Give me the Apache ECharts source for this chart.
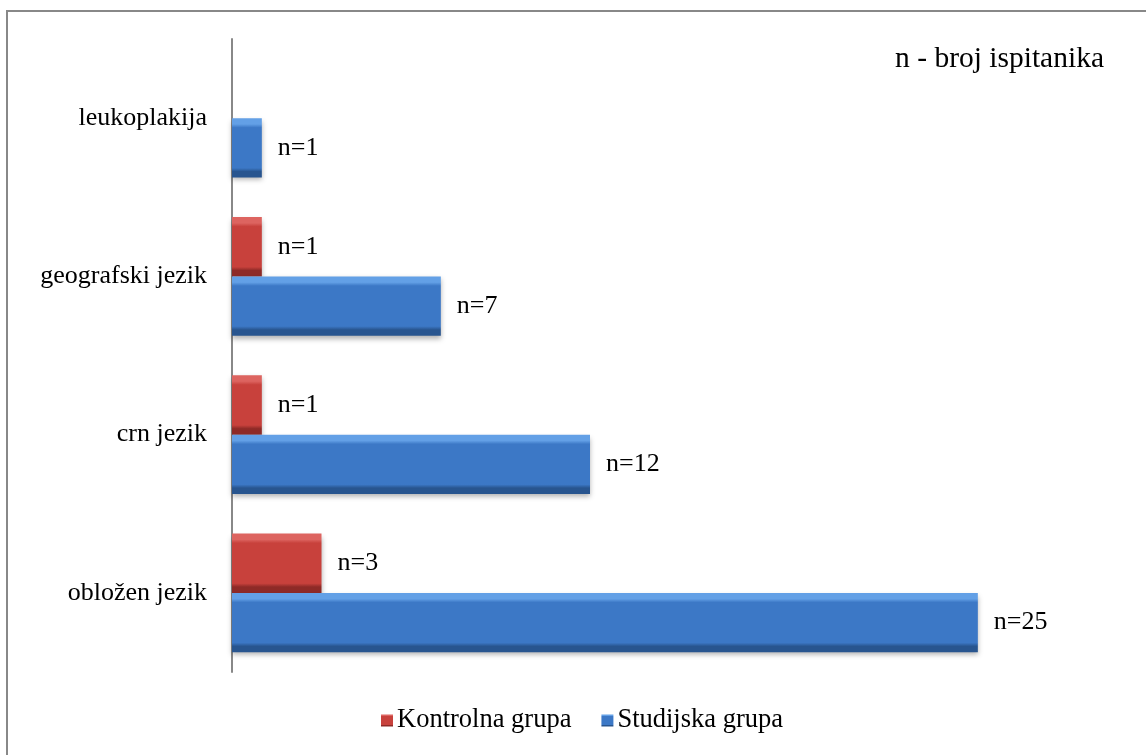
<!DOCTYPE html>
<html>
<head>
<meta charset="utf-8">
<script src="https://cdn.jsdelivr.net/npm/echarts@6/dist/echarts.min.js"></script>
<style>
html, body { margin: 0; padding: 0; background: #fff; }
#main { width: 1146px; height: 755px; }
</style>
</head>
<body>
<div id="main"></div>
<script>
// podaci
var categories = ['leukoplakija', 'geografski jezik', 'crn jezik', 'obložen jezik'];
var kontrolna = [null, 1, 1, 3];
var studijska = [1, 7, 12, 25];
var seriesNames = ['Kontrolna grupa', 'Studijska grupa'];

var serif = '"Liberation Serif", "DejaVu Serif", serif';

function bevel(light, mid, dark) {
    return new echarts.graphic.LinearGradient(0, 0, 0, 1, [
        { offset: 0, color: light },
        { offset: 0.1, color: light },
        { offset: 0.16, color: mid },
        { offset: 0.84, color: mid },
        { offset: 0.9, color: dark },
        { offset: 1, color: dark }
    ]);
}

var myChart = echarts.init(document.getElementById('main'));

var labelOpt = {
    show: true,
    position: 'right',
    distance: 16,
    fontFamily: serif,
    fontSize: 26,
    color: '#000',
    formatter: function (p) { return 'n=' + p.value; }
};

var option = {
    backgroundColor: '#fff',
    animation: false,
    graphic: [{
        type: 'rect',
        shape: { x: 7, y: 11, width: 1150, height: 760 },
        style: { fill: 'none', stroke: '#888', lineWidth: 2 },
        silent: true
    }, {
        type: 'text',
        right: 42,
        top: 44,
        style: { text: 'n - broj ispitanika', fontFamily: serif, fontSize: 29.5, fill: '#000' }
    }],
    legend: {
        bottom: 16,
        left: 376,
        itemWidth: 12,
        itemHeight: 12,
        itemGap: 30,
        icon: 'rect',
        textStyle: { fontFamily: serif, fontSize: 26.5, color: '#000', padding: [0, 0, 0, -1] },
        data: seriesNames
    },
    grid: { left: 232, right: 19, top: 39, bottom: 83 },
    xAxis: {
        type: 'value',
        min: 0,
        max: 30,
        show: false
    },
    yAxis: {
        type: 'category',
        inverse: true,
        data: categories,
        axisLine: { show: true, lineStyle: { color: '#888', width: 2 } },
        axisTick: { show: false },
        axisLabel: { fontFamily: serif, fontSize: 26, color: '#000', margin: 25 }
    },
    series: [{
        name: seriesNames[0],
        type: 'bar',
        data: kontrolna,
        barGap: '0%',
        barCategoryGap: '25%',
        itemStyle: {
            color: bevel('#dd6460', '#c8413c', '#8e2a27'),
            shadowColor: 'rgba(0,0,0,0.3)',
            shadowBlur: 5,
            shadowOffsetY: 3
        },
        label: labelOpt
    }, {
        name: seriesNames[1],
        type: 'bar',
        data: studijska,
        barGap: '0%',
        barCategoryGap: '25%',
        itemStyle: {
            color: bevel('#63a0e6', '#3c78c6', '#28558f'),
            shadowColor: 'rgba(0,0,0,0.3)',
            shadowBlur: 5,
            shadowOffsetY: 3
        },
        label: labelOpt
    }]
};

myChart.setOption(option);
</script>
</body>
</html>
